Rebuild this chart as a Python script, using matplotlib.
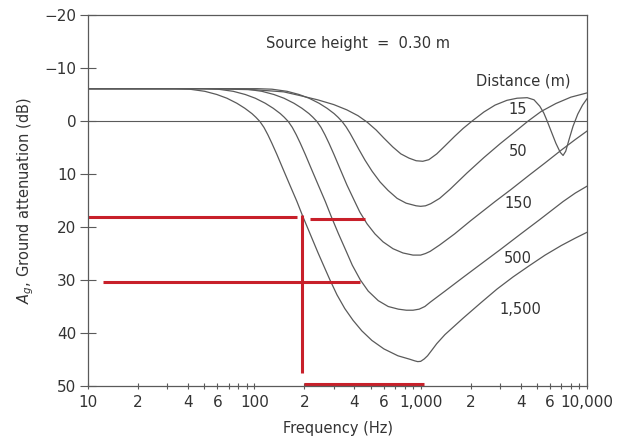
import matplotlib
matplotlib.use("Agg")
import matplotlib.pyplot as plt
from matplotlib.ticker import FixedLocator, NullFormatter

# ---------------- data ----------------
f_15 = [10, 50, 100, 150, 188, 240, 300, 360, 420, 476, 540, 600, 680, 760, 850, 940, 1030,
        1120, 1250, 1400, 1600, 1800, 2040, 2400, 2800, 3300, 3800, 4370, 4800, 5200, 5500,
        5760, 6100, 6500, 6900, 7180, 7450, 7800, 8240, 8800, 9400, 10000]
db_15 = [-6.1, -6.1, -5.9, -5.5, -4.8, -4.0, -3.1, -2.1, -1.0, 0.2, 1.7, 3.2, 4.9, 6.2, 7.0, 7.5, 7.6,
         7.3, 6.2, 4.7, 2.9, 1.4, 0.0, -1.7, -3.0, -3.9, -4.3, -4.4, -4.0, -2.8, -1.5,
         0.0, 2.0, 4.2, 5.9, 6.5, 5.7, 3.5, 1.0, -1.3, -3.0, -4.2]

f_50 = [10, 60, 103.8, 127.7, 157.4, 185.7, 213.3, 245, 273.6, 301.6, 318.8, 337, 356, 376, 398,
        426, 463, 511, 570, 637, 722, 817, 939, 1000, 1070, 1150, 1300, 1500, 1900, 2400, 3000,
        3600, 4430, 5300, 6500, 8000, 10000]
db_50 = [-6.1, -6.1, -6.1, -6.0, -5.6, -5.0, -4.3, -3.35, -2.4, -1.4, -0.7, 0.1, 1.1, 2.3, 3.7,
         5.4, 7.4, 9.5, 11.5, 13.1, 14.6, 15.5, 16.0, 16.1, 16.0, 15.6, 14.6, 12.9, 9.8, 6.9, 4.3,
         2.3, 0.0, -1.8, -3.3, -4.5, -5.3]

f_150 = [10, 50, 73.3, 90.2, 111.1, 131.1, 150.7, 173, 193.3, 213, 225.1, 238, 251.6, 265.8, 281.1,
         301, 327.3, 360.6, 397.5, 431, 476, 531, 594, 682, 783, 899, 1000, 1070, 1140, 1300, 1600,
         2000, 2800, 3500, 4500, 5600, 7000, 8500, 10000]
db_150 = [-6.1, -6.1, -6.1, -6.0, -5.6, -5.0, -4.3, -3.35, -2.4, -1.4, -0.7, 0.1, 1.2, 2.6, 4.2,
          6.3, 9.0, 12.1, 14.9, 17.2, 19.4, 21.3, 22.8, 24.1, 24.9, 25.3, 25.3, 25.0, 24.6, 23.4, 21.3,
          18.8, 15.2, 12.9, 10.2, 7.9, 5.5, 3.5, 1.9]

f_500 = [10, 40, 49.3, 60.6, 74.7, 88.2, 101.3, 116.3, 129.9, 143.2, 151.4, 160, 169.1, 178.7, 189,
         202.4, 220, 242.4, 267.2, 289.8, 319.7, 357, 388, 434, 484, 556, 638, 734, 820, 900, 980,
         1060, 1140, 1400, 1800, 2300, 3000, 4000, 5200, 7180, 8500, 10000]
db_500 = [-6.1, -6.1, -6.1, -6.0, -5.6, -5.0, -4.3, -3.35, -2.4, -1.4, -0.7, 0.1, 1.2, 2.6, 4.2,
          6.3, 9.0, 12.1, 15.2, 18.0, 21.2, 24.6, 27.2, 30.0, 32.1, 33.9, 35.0, 35.5, 35.7, 35.7, 35.5,
          35.0, 34.2, 32.1, 29.5, 27.0, 24.3, 21.3, 18.6, 15.2, 13.6, 12.3]

f_1500 = [10, 25, 33.3, 40.9, 50.4, 59.5, 68.4, 78.5, 87.7, 96.7, 102.2, 108, 114.2, 120.6, 127.5,
          136.6, 148.5, 163.6, 180.4, 195.6, 215.8, 241, 262, 285, 314, 350, 392, 443, 509, 601, 730,
          860, 920, 960, 1000, 1050, 1100, 1170, 1250, 1400, 1800, 2300, 2880, 3600, 4500, 5600, 7000,
          8500, 10000]
db_1500 = [-6.1, -6.1, -6.1, -6.0, -5.6, -5.0, -4.3, -3.35, -2.4, -1.4, -0.7, 0.1, 1.2, 2.6, 4.2,
           6.3, 9.0, 12.1, 15.2, 18.0, 21.2, 24.8, 27.4, 30.0, 32.8, 35.4, 37.6, 39.6, 41.4, 43.0, 44.3,
           44.95, 45.25, 45.4, 45.35, 44.9, 44.3, 43.2, 42.0, 40.3, 37.2, 34.3, 31.7, 29.4, 27.3, 25.3, 23.5,
           22.1, 21.0]

series = [(f_15, db_15), (f_50, db_50), (f_150, db_150), (f_500, db_500), (f_1500, db_1500)]

dist_labels = ["15", "50", "150", "500", "1,500"]
dist_label_f = [3850, 3850, 3850, 3850, 3950]
dist_label_db = [-2.2, 5.7, 15.5, 26.0, 35.5]

x_label_ticks = [10, 20, 40, 60, 100, 200, 400, 600, 1000, 2000, 4000, 6000, 10000]
x_label_text = ["10", "2", "4", "6", "100", "2", "4", "6", "1,000", "2", "4", "6", "10,000"]
x_minor = [30, 50, 70, 80, 90, 300, 500, 700, 800, 900, 3000, 5000, 7000, 8000, 9000]
y_ticks = [-20, -10, 0, 10, 20, 30, 40, 50]
y_tick_text = ["\u221220", "\u221210", "0", "10", "20", "30", "40", "50"]

# red annotation segments: (f0, f1, db0, db1)
red_segments = [
    (10, 181, 18.2, 18.2),
    (216, 463, 18.4, 18.4),
    (12.3, 433, 30.3, 30.3),
    (194, 194, 17.7, 47.5),
    (200, 1050, 49.7, 49.7),
]

# ---------------- drawing ----------------
plt.rcParams['font.family'] = ['DejaVu Sans']
fig = plt.figure(figsize=(6.17, 4.48), dpi=100)
ax = fig.add_axes([88 / 617, 1 - 386 / 448, (587 - 88) / 617, (386 - 15) / 448])

curve_color = "#5a5a5a"
text_color = "#333333"

ax.axhline(0, color=curve_color, lw=0.8)
for f, d in series:
    ax.plot(f, d, color=curve_color, lw=0.9, solid_joinstyle="round")

for f0, f1, d0, d1 in red_segments:
    ax.plot([f0, f1], [d0, d1], color="#c8202a", lw=2.2, solid_capstyle="butt")

ax.set_xscale("log")
ax.set_xlim(10, 10000)
ax.set_ylim(50, -20)

ax.xaxis.set_major_locator(FixedLocator(x_label_ticks))
ax.set_xticklabels(x_label_text)
ax.xaxis.set_minor_locator(FixedLocator(x_minor))
ax.xaxis.set_minor_formatter(NullFormatter())
ax.set_yticks(y_ticks)
ax.set_yticklabels(y_tick_text)

ax.tick_params(axis="x", which="both", direction="inout", length=5, width=0.8,
               colors=curve_color, labelcolor=text_color, labelsize=11, pad=4)
ax.tick_params(axis="y", which="both", direction="inout", length=11, width=0.8,
               colors=curve_color, labelcolor=text_color, labelsize=11, pad=3)

for s in ax.spines.values():
    s.set_color(curve_color)
    s.set_linewidth(0.9)

ax.set_xlabel("Frequency (Hz)", color=text_color, fontsize=10.5, labelpad=8)
ax.set_ylabel(r"$A_g$, Ground attenuation (dB)", color=text_color, fontsize=10.5, labelpad=6)

ax.text(420, -14.6, "Source height  =  0.30 m", ha="center", va="center",
        color=text_color, fontsize=10.5)
ax.text(4130, -7.6, "Distance (m)", ha="center", va="center", color=text_color, fontsize=10.5)
for lab, lf, ld in zip(dist_labels, dist_label_f, dist_label_db):
    ax.text(lf, ld, lab, ha="center", va="center", color=text_color, fontsize=10.5)

fig.savefig("out.png", dpi=100)
